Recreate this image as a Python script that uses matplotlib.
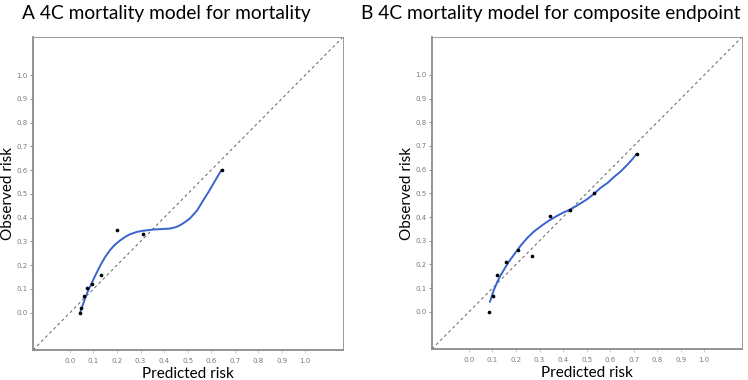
"""Calibration plots for the 4C mortality model."""

import matplotlib.pyplot as plt

W, H = 748, 380

# Panel A: mortality
a_pts_x = [0.043, 0.047, 0.058, 0.074, 0.094, 0.133, 0.200, 0.312, 0.644]
a_pts_y = [0.000, 0.020, 0.071, 0.103, 0.121, 0.157, 0.350, 0.329, 0.601]
a_fit_x = [0.043, 0.060, 0.075, 0.094, 0.110, 0.128, 0.150, 0.170, 0.190, 0.213, 0.235,
           0.255, 0.285, 0.312, 0.355, 0.390, 0.426, 0.450, 0.468, 0.490, 0.510, 0.540,
           0.567, 0.590, 0.610, 0.630, 0.644]
a_fit_y = [0.000, 0.048, 0.088, 0.128, 0.161, 0.197, 0.235, 0.263, 0.285, 0.304, 0.319,
           0.330, 0.340, 0.345, 0.350, 0.352, 0.354, 0.360, 0.368, 0.382, 0.397, 0.430,
           0.474, 0.510, 0.544, 0.578, 0.601]

# Panel B: composite endpoint
b_pts_x = [0.086, 0.102, 0.120, 0.157, 0.210, 0.267, 0.343, 0.431, 0.531, 0.712]
b_pts_y = [0.000, 0.065, 0.154, 0.209, 0.262, 0.235, 0.403, 0.429, 0.502, 0.667]
b_fit_x = [0.089, 0.105, 0.122, 0.135, 0.150, 0.170, 0.192, 0.220, 0.249, 0.275, 0.305,
           0.340, 0.376, 0.405, 0.431, 0.470, 0.503, 0.530, 0.559, 0.590, 0.616, 0.645,
           0.672, 0.695, 0.712]
b_fit_y = [0.042, 0.090, 0.130, 0.155, 0.180, 0.212, 0.242, 0.280, 0.313, 0.338, 0.361,
           0.385, 0.406, 0.421, 0.432, 0.455, 0.476, 0.497, 0.523, 0.545, 0.569, 0.593,
           0.620, 0.645, 0.667]

ticks = [0.0, 0.1, 0.2, 0.3, 0.4, 0.5, 0.6, 0.7, 0.8, 0.9, 1.0]
tick_labels = [f"{t:.1f}" for t in ticks]

LIM = (-0.157, 1.16)
FONT = "Lato"


def draw_panel(ax, pts_x, pts_y, fit_x, fit_y, title, title_x):
    ax.set_xlim(*LIM)
    ax.set_ylim(*LIM)
    ax.plot(LIM, LIM, color="#606060", linestyle=(0, (3, 3)), linewidth=0.7)
    ax.plot(fit_x, fit_y, color="#3a63d0", linewidth=1.4, solid_capstyle="round")
    ax.scatter(pts_x, pts_y, s=7, color="black", zorder=3, linewidths=0)

    ax.set_xticks(ticks)
    ax.set_yticks(ticks)
    ax.set_xticklabels(tick_labels)
    ax.set_yticklabels(tick_labels)
    ax.tick_params(axis="both", labelsize=5, labelcolor="#7a7a7a", length=2,
                   width=0.6, pad=2)
    ax.tick_params(axis="x", color="#c8c8c8", pad=4)
    ax.tick_params(axis="y", color="#7a7a7a")

    for side in ("left", "bottom"):
        ax.spines[side].set_color("#8a8a8a")
        ax.spines[side].set_linewidth(1.3)
    for side in ("top", "right"):
        ax.spines[side].set_color("#9a9a9a")
        ax.spines[side].set_linewidth(0.7)

    ax.set_xlabel("Predicted risk", fontsize=11, family=FONT, labelpad=2)
    ax.set_ylabel("Observed risk", fontsize=11, family=FONT, labelpad=1)
    ax.get_figure().text(title_x / W, 1 - 13 / H, title, fontsize=13.8,
                         family=FONT, va="center", ha="left")


fig = plt.figure(figsize=(W / 100, H / 100), dpi=100)
ax_a = fig.add_axes([33 / W, 30 / H, 310 / W, 313 / H])
ax_b = fig.add_axes([432 / W, 31 / H, 310 / W, 312 / H])

draw_panel(ax_a, a_pts_x, a_pts_y, a_fit_x, a_fit_y,
           "A 4C mortality model for mortality", 22)
draw_panel(ax_b, b_pts_x, b_pts_y, b_fit_x, b_fit_y,
           "B 4C mortality model for composite endpoint", 361)

fig.savefig("out.png", dpi=100)
